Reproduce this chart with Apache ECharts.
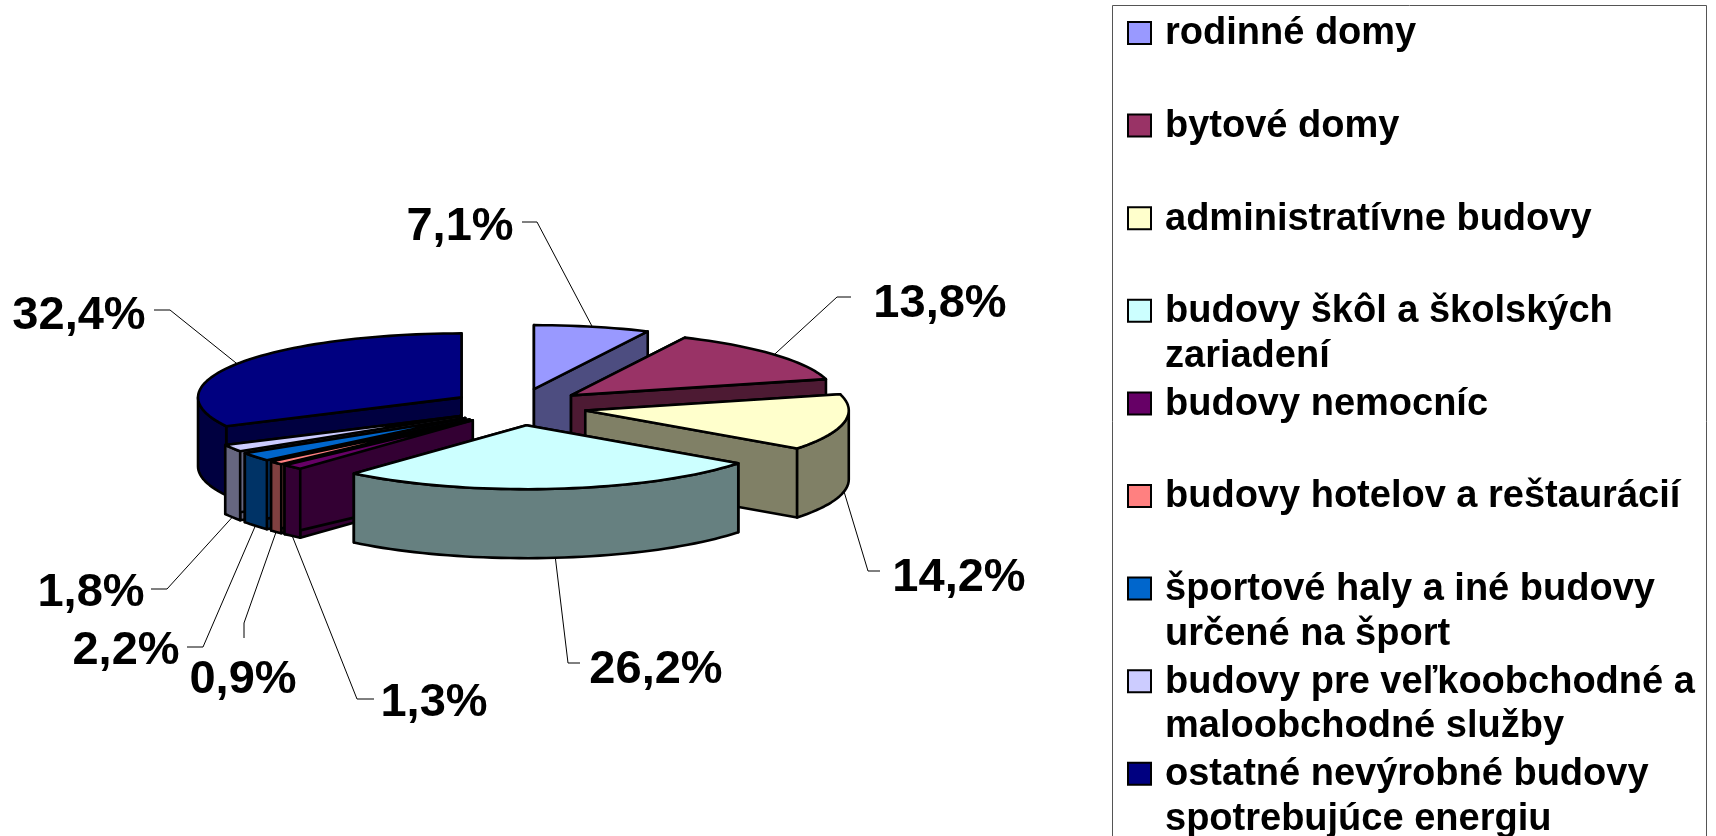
<!DOCTYPE html>
<html>
<head>
<meta charset="utf-8">
<style>
  html, body { margin: 0; padding: 0; background: #fff; }
  #root { width: 1716px; height: 836px; }
</style>
<script src="https://cdn.jsdelivr.net/npm/echarts@6/dist/echarts.min.js"></script>
</head>
<body>
<div id="root"></div>
<script>
// data
const categories = [
    'rodinné domy',
    'bytové domy',
    'administratívne budovy',
    'budovy škôl a školských\nzariadení',
    'budovy nemocníc',
    'budovy hotelov a reštaurácií',
    'športové haly a iné budovy\nurčené na šport',
    'budovy pre veľkoobchodné a\nmaloobchodné služby',
    'ostatné nevýrobné budovy\nspotrebujúce energiu'
];
const values = [7.1, 13.8, 14.2, 26.2, 1.3, 0.9, 2.2, 1.8, 32.4];
const valueLabels = ['7,1%', '13,8%', '14,2%', '26,2%', '1,3%', '0,9%', '2,2%', '1,8%', '32,4%'];

// styles
const topColors = ['#9999FF', '#993366', '#FFFFCC', '#CCFFFF', '#660066', '#FF8080', '#0066CC', '#CCCCFF', '#000080'];
const sideColors = ['#4D4D80', '#4D1A33', '#808066', '#668080', '#330033', '#804040', '#003366', '#666680', '#000040'];

// painter's order, back to front
const drawOrder = [0, 8, 7, 6, 5, 4, 1, 2, 3];

// pie layout
const CX = 519, CY = 407, RX = 263.5, RY = 64, DEPTH = 69;
const EXPLODE_X = 67.5, EXPLODE_Y = 18.3;

// label centre, then leader elbow and the short end next to the text
const labelPos = [[460, 227], [940, 304], [959, 578], [656, 670], [434, 703], [243, 680], [126, 651], [91, 593], [79, 316]];
const leaderElbow = [[537, 222], [837, 297], [868, 571], [568, 663], [357, 699], [244, 623], [203, 647], [167, 589], [170, 310]];
const leaderEnd = [[522, 222], [851, 297], [880, 571], [580, 663], [374, 699], [244, 638], [187, 647], [151, 589], [154, 310]];

const LABEL_FONT = 'bold 47px "Liberation Sans", Arial, sans-serif';
const LEGEND_FONT = 'bold 38px "Liberation Sans", Arial, sans-serif';

const total = values.reduce((a, b) => a + b, 0);
const startAngles = [];
values.reduce((sum, v, i) => { startAngles[i] = sum / total * 360; return sum + v; }, 0);

function rad(deg) { return deg * Math.PI / 180; }

function rim(apex, deg, drop) {
    return [apex[0] + RX * Math.sin(rad(deg)), apex[1] - RY * Math.cos(rad(deg)) + (drop || 0)];
}

function arcPoints(apex, a0, a1, drop) {
    let pts = [];
    let n = Math.max(2, Math.ceil((a1 - a0) / 2));
    for (let i = 0; i <= n; i++) {
        pts.push(rim(apex, a0 + (a1 - a0) * i / n, drop));
    }
    return pts;
}

function face(points, fill) {
    return {
        type: 'polygon',
        shape: { points: points },
        style: { fill: fill, stroke: '#000', lineWidth: 2.6, lineJoin: 'round' }
    };
}

function renderSlice(params, api) {
    let i = api.value(0);
    let a0 = startAngles[i];
    let a1 = a0 + values[i] / total * 360;
    let mid = (a0 + a1) / 2;
    let apex = [CX + EXPLODE_X * Math.sin(rad(mid)), CY - EXPLODE_Y * Math.cos(rad(mid))];
    let apexLow = [apex[0], apex[1] + DEPTH];
    let children = [];

    // radial walls
    [a0, a1].forEach(a => {
        children.push(face([apex, rim(apex, a), rim(apex, a, DEPTH), apexLow], sideColors[i]));
    });
    // outer wall, only the front half can be seen
    let f0 = Math.max(a0, 90), f1 = Math.min(a1, 270);
    if (f1 > f0) {
        let upper = arcPoints(apex, f0, f1, 0);
        let lower = arcPoints(apex, f0, f1, DEPTH).reverse();
        children.push(face(upper.concat(lower), sideColors[i]));
    }
    // top
    children.push(face([apex].concat(arcPoints(apex, a0, a1, 0)), topColors[i]));

    // leader line + label
    let front = mid > 90 && mid < 270;
    children.push({
        type: 'polyline',
        shape: { points: [rim(apex, mid, front ? DEPTH : 0), leaderElbow[i], leaderEnd[i]] },
        style: { fill: null, stroke: '#000', lineWidth: 1 },
        z2: 50
    });
    children.push({
        type: 'text',
        x: labelPos[i][0],
        y: labelPos[i][1],
        style: { text: valueLabels[i], font: LABEL_FONT, fill: '#000', align: 'center', verticalAlign: 'middle' },
        z2: 60
    });
    return { type: 'group', children: children };
}

// legend, every entry has the same pitch and the swatch sits on the first line
const LEGEND_TOP = 33, LEGEND_PITCH = 92.6, LEGEND_LINE = 44.5;
let legendGraphics = [{
    type: 'rect',
    shape: { x: 1112.5, y: 5.5, width: 594, height: 840 },
    style: { fill: '#fff', stroke: '#555', lineWidth: 1 }
}];
categories.forEach((name, i) => {
    let y = LEGEND_TOP + LEGEND_PITCH * i;
    legendGraphics.push({
        type: 'rect',
        shape: { x: 1128, y: y - 11, width: 23, height: 22 },
        style: { fill: topColors[i], stroke: '#000', lineWidth: 2 }
    });
    name.split('\n').forEach((line, k) => {
        legendGraphics.push({
            type: 'text',
            x: 1165,
            y: y + 1 + k * LEGEND_LINE,
            style: { text: line, font: LEGEND_FONT, fill: '#000', verticalAlign: 'middle' }
        });
    });
});

let myChart = echarts.init(document.getElementById('root'));
myChart.setOption({
    animation: false,
    backgroundColor: '#fff',
    graphic: legendGraphics,
    series: [{
        type: 'custom',
        coordinateSystem: 'none',
        renderItem: renderSlice,
        data: drawOrder.map(i => [i])
    }]
});
</script>
</body>
</html>
